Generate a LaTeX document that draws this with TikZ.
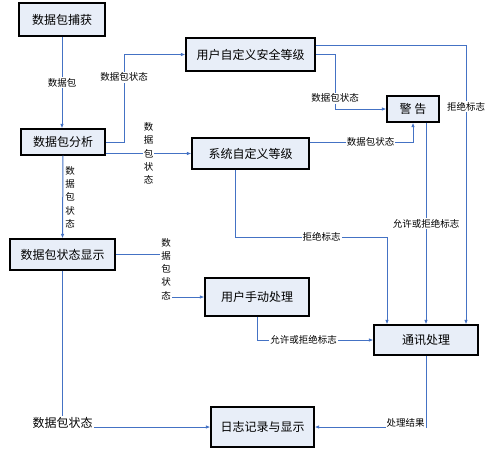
\documentclass[tikz,border=0pt]{standalone}
\usepackage{fontspec}
\newfontfamily\cjk{Noto Sans CJK SC}
\usetikzlibrary{arrows.meta}
\definecolor{lineblue}{RGB}{68,114,196}
\definecolor{boxfill}{RGB}{232,238,248}
\begin{document}
\begin{tikzpicture}[x=1pt, y=-1pt, >={Latex[length=4.5pt,width=3.5pt]}, line width=1pt]
\tikzset{
	box/.style={draw, line width=1.2pt, fill=boxfill, inner sep=0pt, font=\cjk\fontsize{12}{14}\selectfont},
	flow/.style={->, draw=lineblue},
	lab/.style={fill=white, inner sep=1pt, font=\cjk\fontsize{9.5}{11}\selectfont},
	vlab/.style={lab, align=center, font=\cjk\fontsize{9.5}{13.3}\selectfont}
}
\useasboundingbox (0,0) rectangle (497,450);

% Boxes
\node[box, minimum width=86pt, minimum height=33pt] (cap) at (62,19.5) {数据包捕获};
\node[box, minimum width=84pt, minimum height=26pt] (ana) at (63,142) {数据包分析};
\node[box, minimum width=129pt, minimum height=33pt] (usr) at (250.5,54.5) {用户自定义安全等级};
\node[box, minimum width=117pt, minimum height=31pt] (sys) at (250.5,153.5) {系统自定义等级};
\node[box, minimum width=52pt, minimum height=26pt] (warn) at (413,109) {警\ 告};
\node[box, minimum width=105pt, minimum height=31pt] (disp) at (62.5,254.5) {数据包状态显示};
\node[box, minimum width=104pt, minimum height=38pt] (man) at (257,297) {用户手动处理};
\node[box, minimum width=104pt, minimum height=30pt] (comm) at (426,340) {通讯处理};
\node[box, minimum width=103pt, minimum height=40pt] (log) at (262.5,427) {日志记录与显示};

% Bend points
\coordinate (k1) at (124,54.5);
\coordinate (k2) at (335,109);
\coordinate (k3) at (466,45);
\coordinate (k4) at (413,142);
\coordinate (k5) at (235,237);
\coordinate (k6) at (387,237);
\coordinate (k7) at (166,297);

% Connectors
\draw[flow] (cap.south) -- node[lab] {数据包} (cap.south |- ana.north);
\draw[flow] (ana.east) -| (k1) node[lab, pos=0.87] {数据包状态} -- (usr.west);
\draw[flow] (ana.east |- sys.west) -- node[vlab] {数\\据\\包\\状\\态} (sys.west);
\draw[flow] (ana.south) -- node[vlab, right, inner sep=2pt, fill=none] {数\\据\\包\\状\\态} (disp.north);
\draw[flow] (usr.east) -| (k2) node[lab, pos=0.9] {数据包状态} -- (warn.west);
\draw[flow] (usr.east |- k3) -- (k3) -- node[lab, pos=0.22] {拒绝标志} (k3 |- comm.north);
\draw[flow] (sys.east |- k4) -- node[lab, pos=0.59] {数据包状态} (k4) -- (warn.south);
\draw[flow] (sys.south -| k5) -- (k5) -- node[lab, pos=0.57] {拒绝标志} (k6) -- (k6 |- comm.north);
\draw[flow] (comm.north |- warn.south) -- node[lab] {允许或拒绝标志} (comm.north);
\draw[flow] (disp.east) -| (k7) node[vlab, pos=0.67] {数\\据\\包\\状\\态} -- (man.west);
\draw[flow] (man.south) |- node[lab, pos=0.7] {允许或拒绝标志} (comm.west);
\draw[flow] (comm.south) |- node[lab, pos=0.5, anchor=east, yshift=4pt] {处理结果} (log.east);
\draw[flow] (disp.south) |- node[lab, pos=0.5, yshift=4pt, font=\cjk\fontsize{12}{14}\selectfont] {数据包状态} (log.west);

\end{tikzpicture}
\end{document}
